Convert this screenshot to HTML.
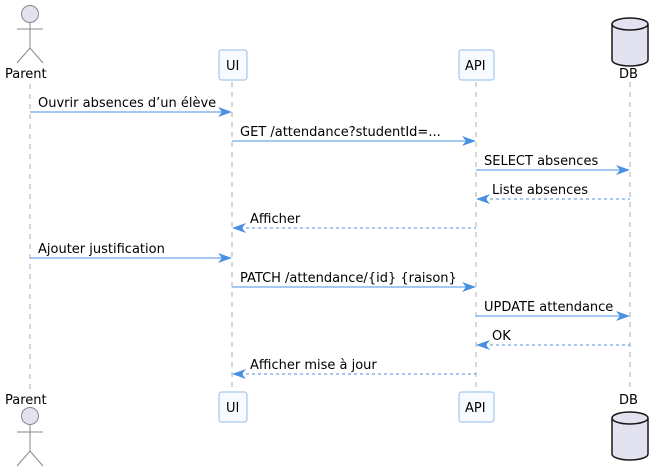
<!DOCTYPE html><html><head><style>body{margin:0;background:#fff}svg{display:block}text{font-family:"DejaVu Sans","Liberation Sans",sans-serif;font-size:13px;fill:#000}</style></head><body>
<svg width="664" height="472" viewBox="0 0 664 472">
<g stroke="#999" stroke-dasharray="5,5" stroke-width="0.8">
<line x1="30" y1="84" x2="30" y2="392"/><line x1="232" y1="82" x2="232" y2="392"/><line x1="476" y1="82" x2="476" y2="392"/><line x1="630" y1="82" x2="630" y2="392"/></g>
<g fill="#e2e2f0" stroke="#888" stroke-width="1">
<circle cx="30" cy="14" r="8.5"/><line x1="30" y1="22" x2="30" y2="48"/><line x1="17" y1="29" x2="43" y2="29"/><polyline fill="none" points="17,63 30,48 43,63"/>
<circle cx="30" cy="416" r="8.5"/><line x1="30" y1="424" x2="30" y2="451"/><line x1="17" y1="432" x2="43" y2="432"/><polyline fill="none" points="17,466 30,451 43,466"/></g>
<text x="5" y="78">Parent</text><text x="5" y="404">Parent</text>
<g fill="#f7fbff" stroke="#8fbbee"><rect x="219" y="50" width="28" height="30" rx="2.5"/><rect x="459" y="50" width="35" height="30" rx="2.5"/><rect x="219" y="392" width="28" height="30" rx="2.5"/><rect x="459" y="392" width="35" height="30" rx="2.5"/></g>
<text x="226" y="70">UI</text><text x="465" y="70">API</text><text x="226" y="412">UI</text><text x="465" y="412">API</text>
<g fill="#e2e2f0" stroke="#181818" stroke-width="1.5">
<path d="M612,24 a18,6 0 0 1 36,0 v36 a18,6 0 0 1 -36,0 z"/><path fill="none" d="M612,24 a18,6 0 0 0 36,0"/>
<path d="M612,418 a18,6 0 0 1 36,0 v36 a18,6 0 0 1 -36,0 z"/><path fill="none" d="M612,418 a18,6 0 0 0 36,0"/></g>
<text x="619" y="78">DB</text><text x="619" y="404">DB</text>
<g stroke="#4a90e2" stroke-width="1" fill="none">
<line x1="30" y1="112" x2="230" y2="112"/><line x1="232" y1="141" x2="474" y2="141"/><line x1="476" y1="170" x2="628" y2="170"/>
<line x1="478" y1="199" x2="630" y2="199" stroke-dasharray="3,3"/><line x1="234" y1="228" x2="476" y2="228" stroke-dasharray="3,3"/>
<line x1="30" y1="258" x2="230" y2="258"/><line x1="232" y1="287" x2="474" y2="287"/><line x1="476" y1="316" x2="628" y2="316"/>
<line x1="478" y1="345" x2="630" y2="345" stroke-dasharray="3,3"/><line x1="234" y1="374" x2="476" y2="374" stroke-dasharray="3,3"/></g>
<g fill="#4a90e2">
<polygon points="218,107 232,112 218,117 222,112"/><polygon points="462,136 476,141 462,146 466,141"/><polygon points="616,165 630,170 616,175 620,170"/>
<polygon points="490,194 476,199 490,204 486,199"/><polygon points="246,223 232,228 246,233 242,228"/>
<polygon points="218,253 232,258 218,263 222,258"/><polygon points="462,282 476,287 462,292 466,287"/><polygon points="616,311 630,316 616,321 620,316"/>
<polygon points="490,340 476,345 490,350 486,345"/><polygon points="246,369 232,374 246,379 242,374"/></g>
<text x="38" y="107">Ouvrir absences d’un élève</text>
<text x="240" y="136">GET /attendance?studentId=...</text>
<text x="484" y="165">SELECT absences</text>
<text x="492" y="194">Liste absences</text>
<text x="250" y="223">Afficher</text>
<text x="38" y="253">Ajouter justification</text>
<text x="240" y="282">PATCH /attendance/{id} {raison}</text>
<text x="484" y="311">UPDATE attendance</text>
<text x="492" y="340">OK</text>
<text x="250" y="369">Afficher mise à jour</text>
</svg></body></html>
